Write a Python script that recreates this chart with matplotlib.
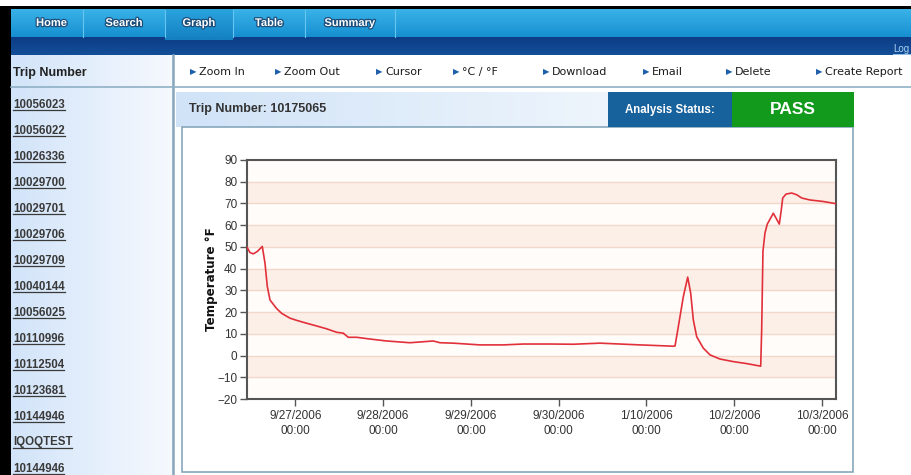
import numpy as np
import pandas as pd
import matplotlib
matplotlib.use("Agg")
import matplotlib.pyplot as plt
import matplotlib.colors as mcolors
import matplotlib.patheffects as pe
from matplotlib.patches import Rectangle

#### CONFIG ######################################
W, H = 912, 475
SANS = "Liberation Sans"

TABS = ["Home", "Search", "Graph", "Table", "Summary"]
TAB_EDGES = [12, 83, 165, 233, 305, 395]
TOOLS = ["Zoom In", "Zoom Out", "Cursor", "°C / °F", "Download", "Email",
         "Delete", "Create Report"]
TOOL_X = [190, 275, 376, 453, 543, 643, 726, 816]
TRIPS = ["10056023", "10056022", "10026336", "10029700", "10029701",
         "10029706", "10029709", "10040144", "10056025", "10110996",
         "10112504", "10123681", "10144946", "IQOQTEST", "10144946"]
TRIP_NO = "10175065"
STATUS = "PASS"

TIMES = ["2006-09-26 10:48", "2006-09-26 11:37", "2006-09-26 12:31",
         "2006-09-26 13:37", "2006-09-26 14:59", "2006-09-26 15:43",
         "2006-09-26 16:21", "2006-09-26 17:05", "2006-09-26 17:59",
         "2006-09-26 18:55", "2006-09-26 20:17", "2006-09-26 22:33",
         "2006-09-27 00:23", "2006-09-27 02:11", "2006-09-27 05:51",
         "2006-09-27 08:35", "2006-09-27 11:19", "2006-09-27 13:07",
         "2006-09-27 14:29", "2006-09-27 16:47", "2006-09-27 20:25",
         "2006-09-28 00:59", "2006-09-28 07:21", "2006-09-28 13:43",
         "2006-09-28 15:33", "2006-09-28 19:11", "2006-09-29 02:29",
         "2006-09-29 08:52", "2006-09-29 14:19", "2006-09-29 21:37",
         "2006-09-30 03:59", "2006-09-30 11:17", "2006-09-30 22:13",
         "2006-10-01 07:20", "2006-10-01 07:48", "2006-10-01 08:42",
         "2006-10-01 10:04", "2006-10-01 11:16", "2006-10-01 12:05",
         "2006-10-01 12:48", "2006-10-01 13:43", "2006-10-01 15:32",
         "2006-10-01 17:22", "2006-10-01 20:05", "2006-10-01 23:44",
         "2006-10-02 03:23", "2006-10-02 07:13", "2006-10-02 07:29",
         "2006-10-02 07:50", "2006-10-02 08:23", "2006-10-02 09:01",
         "2006-10-02 09:57", "2006-10-02 10:40", "2006-10-02 11:24",
         "2006-10-02 12:18", "2006-10-02 12:51", "2006-10-02 13:14",
         "2006-10-02 14:08", "2006-10-02 15:41", "2006-10-02 17:04",
         "2006-10-02 18:26", "2006-10-02 20:42", "2006-10-03 00:20",
         "2006-10-03 03:48"]
TEMPS_F = [49.9, 47.4, 46.8, 47.9, 50.2, 42.5,
           31.8, 25.6, 23.6, 21.6, 19.4, 17.2,
           16.2, 15.3, 13.6, 12.3, 10.7, 10.3,
           8.4, 8.4, 7.6, 6.7, 5.9, 6.7,
           5.9, 5.7, 4.9, 4.9, 5.3, 5.3,
           5.2, 5.7, 4.9, 4.3, 4.4, 13.3,
           27.1, 36.1, 28.7, 16.4, 8.7, 3.4,
           0.3, -1.6, -2.8, -3.7, -4.9, 11.8,
           48.0, 56.4, 60.5, 63.3, 65.5, 63.3,
           60.5, 67.1, 72.5, 74.3, 74.8, 74.0,
           72.5, 71.6, 70.9, 69.9]

X_TICKS = ["2006-09-27", "2006-09-28", "2006-09-29", "2006-09-30",
           "2006-10-01", "2006-10-02", "2006-10-03"]
X_TICK_LABELS = ["9/27/2006\n00:00", "9/28/2006\n00:00", "9/29/2006\n00:00",
                 "9/30/2006\n00:00", "1/10/2006\n00:00", "10/2/2006\n00:00",
                 "10/3/2006\n00:00"]
Y_TICKS = [-20, -10, 0, 10, 20, 30, 40, 50, 60, 70, 80, 90]
X_RANGE = ["2006-09-26 10:48", "2006-10-03 03:48"]


#### FUNCTIONS ###################################

def gradient(ax, x0, y0, x1, y1, c0, c1, vertical=True, z=1):
    c0 = np.array(mcolors.to_rgb(c0))
    c1 = np.array(mcolors.to_rgb(c1))
    t = np.linspace(0, 1, 64)
    img = c0 + (c1 - c0) * t[:, None]
    img = img[:, None, :] if vertical else img[None, :, :]
    ax.imshow(img, extent=(x0, x1, y1, y0), aspect="auto",
              interpolation="bilinear", zorder=z)


def rect(ax, x, y, w, h, fc, ec="none", lw=0, z=1):
    ax.add_patch(Rectangle((x, y), w, h, facecolor=fc, edgecolor=ec,
                           linewidth=lw, zorder=z))


def draw_page(fig, bg):
    # top nav bar
    rect(bg, 0, 6, W, 3, "black", z=2)
    gradient(bg, 11, 9, W, 37, "#3ab3e8", "#168fd1")
    gradient(bg, 165, 9, 233, 40, "#2aa3de", "#1380c2", z=2)
    for x in TAB_EDGES[1:]:
        bg.plot([x, x], [10, 37], color="#67c6ef", lw=0.8, zorder=3)
    gradient(bg, 11, 37, W, 55, "#0c3d86", "#134f98")
    gradient(bg, 165, 37, 233, 40, "#1380c2", "#1380c2", z=2)
    for i, name in enumerate(TABS):
        cx = (TAB_EDGES[i] + TAB_EDGES[i + 1]) / 2 + (4 if i == 0 else 0)
        bg.text(cx, 23, name, color="white", fontsize=8, fontweight="bold",
                family=SANS, ha="center", va="center", zorder=4,
                path_effects=[pe.withStroke(linewidth=1.8,
                                            foreground="#1d4f7c")])
    bg.text(893, 49, "Log", color="#a9d3f4", fontsize=7, family=SANS,
            va="center", zorder=4)
    bg.plot([893, 912], [53.5, 53.5], color="#a9d3f4", lw=0.6, zorder=4)

    # left side bar
    rect(bg, 0, 6, 11, H, "black", z=3)
    gradient(bg, 11, 55, 173, H, "#d2e4f9", "#f6f9fe", vertical=False)
    bg.plot([173, 173], [55, H], color="#86a6bb", lw=1.8, zorder=3)
    bg.plot([11, W], [87, 87], color="#8fb0c5", lw=1.2, zorder=3)
    bg.text(13, 73, "Trip Number", fontsize=9, fontweight="bold",
            family=SANS, color="#222222", va="center", zorder=4)

    # toolbar
    for x, name in zip(TOOL_X, TOOLS):
        bg.text(x, 72, "\u25b6", fontsize=6, color="#1d5fa8",
                va="center", zorder=4)
        bg.text(x + 9, 72, name, fontsize=8, color="#1c1c1c",
                family="DejaVu Sans", va="center", zorder=4)

    trip_texts = []
    for i, trip in enumerate(TRIPS):
        y = 104.5 + 26.0 * i
        t = bg.text(13, y, trip, fontsize=8.3, fontweight="bold",
                    family=SANS, color="#3a3a3a", va="center", zorder=4)
        trip_texts.append((t, y))

    # header with status
    gradient(bg, 176, 92, 853, 127, "#d0e3f7", "#ffffff", vertical=False)
    bg.text(189, 109, "Trip Number: " + TRIP_NO, fontsize=9,
            fontweight="bold", family=SANS, color="#333333",
            va="center", zorder=4)
    rect(bg, 608, 92, 124, 35, "#17619c", z=3)
    bg.text(670, 110, "Analysis Status:", fontsize=8.3, fontweight="bold",
            family=SANS, color="white", ha="center", va="center", zorder=4)
    rect(bg, 732, 92, 122, 35, "#119a1b", z=3)
    bg.text(793, 109, STATUS, fontsize=12.5, fontweight="bold",
            family=SANS, color="white", ha="center", va="center", zorder=4)

    # chart panel
    rect(bg, 182, 127, 671, 345, "white", ec="#86a7ba", lw=1.2, z=2)

    bg.set_xlim(0, W)
    bg.set_ylim(H, 0)

    # underline trip links
    fig.canvas.draw()
    r = fig.canvas.get_renderer()
    for t, y in trip_texts:
        bb = t.get_window_extent(r)
        bg.plot([bb.x0, bb.x1], [y + 5.5, y + 5.5], color="#3a3a3a",
                lw=0.9, zorder=4)
    bg.set_xlim(0, W)
    bg.set_ylim(H, 0)


def draw_chart(fig):
    ax = fig.add_axes([247 / W, (H - 399) / H, 589 / W, 239 / H])
    ax.set_facecolor("white")
    for i, lo in enumerate(Y_TICKS[:-1]):
        color = "#fcefe8" if i % 2 == 1 else "#fffcfa"
        ax.axhspan(lo, lo + 10, color=color, lw=0, zorder=0)
    for v in Y_TICKS[1:-1]:
        ax.axhline(v, color="#f2d8cb", lw=1, zorder=1)

    times = pd.to_datetime(TIMES)
    ax.plot(times, TEMPS_F, color="#e2303a", lw=1.2, zorder=3)

    ax.set_xlim(pd.Timestamp(X_RANGE[0]), pd.Timestamp(X_RANGE[1]))
    ax.set_ylim(Y_TICKS[0], Y_TICKS[-1])
    ax.set_yticks(Y_TICKS)
    ax.set_xticks(pd.to_datetime(X_TICKS))
    ax.set_xticklabels(X_TICK_LABELS, linespacing=1.3)
    for s in ax.spines.values():
        s.set_color("#555555")
        s.set_linewidth(1.5)
    ax.tick_params(colors="#555555", labelcolor="#333333", length=5,
                   width=1, labelsize=8.5, pad=2)
    ax.tick_params(axis="x", pad=3)
    for lbl in ax.get_xticklabels() + ax.get_yticklabels():
        lbl.set_family(SANS)
    ax.set_ylabel("Temperature °F", fontsize=8.6, fontweight="bold",
                  family="DejaVu Sans", color="#111111", va="center")
    ax.yaxis.set_label_coords((212 - 247) / 589, 0.5)
    return ax


#### BEGIN SCRIPT ################################

fig = plt.figure(figsize=(W / 100, H / 100), dpi=100)
fig.patch.set_facecolor("white")
bg = fig.add_axes([0, 0, 1, 1])
bg.axis("off")
draw_page(fig, bg)
draw_chart(fig)
fig.savefig("out.png", dpi=100)
